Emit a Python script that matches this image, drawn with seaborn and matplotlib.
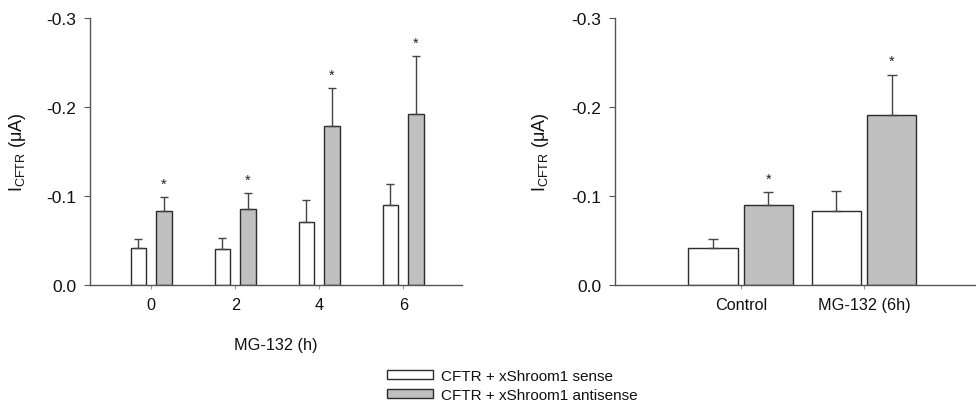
import numpy as np
import pandas as pd
import matplotlib
matplotlib.use("Agg")
import matplotlib.pyplot as plt
import seaborn as sns

# ---- data ----
hours = ["0", "2", "4", "6"]
sense_left = [-0.042, -0.040, -0.071, -0.090]
sense_left_err = [0.010, 0.013, 0.024, 0.024]
anti_left = [-0.083, -0.085, -0.179, -0.192]
anti_left_err = [0.0155, 0.018, 0.042, 0.065]

conditions = ["Control", "MG-132 (6h)"]
sense_right = [-0.042, -0.083]
sense_right_err = [0.010, 0.023]
anti_right = [-0.0895, -0.191]
anti_right_err = [0.0145, 0.045]

groups = ["CFTR + xShroom1 sense", "CFTR + xShroom1 antisense"]
yticks = [0.0, -0.1, -0.2, -0.3]
ytick_labels = ["0.0", "-0.1", "-0.2", "-0.3"]

# ---- style ----
sns.set_theme(style="ticks")
plt.rcParams["font.family"] = ["Liberation Sans", "DejaVu Sans"]
plt.rcParams["mathtext.fontset"] = "custom"
plt.rcParams["mathtext.rm"] = "Liberation Sans"
plt.rcParams["mathtext.it"] = "Liberation Sans"

palette = {groups[0]: "white", groups[1]: "#c0c0c0"}
edge = "#2b2b2b"
axcol = "#555555"
txt = "#111111"

fig = plt.figure(figsize=(9.76, 4.10), dpi=100)
axL = fig.add_axes([90 / 976, 1 - 286 / 410, 372 / 976, 267 / 410])
axR = fig.add_axes([615 / 976, 1 - 286 / 410, 360 / 976, 267 / 410])


def make_df(cats, s, a):
    return pd.DataFrame({
        "cat": list(cats) * 2,
        "val": list(s) + list(a),
        "grp": [groups[0]] * len(cats) + [groups[1]] * len(cats),
    })


def panel(ax, cats, s, se, a, ae, width, gap, capsize, xlim):
    df = make_df(cats, s, a)
    sns.barplot(data=df, x="cat", y="val", hue="grp", order=cats,
                hue_order=groups, palette=palette, errorbar=None,
                width=width, gap=gap, edgecolor=edge, linewidth=1.0,
                legend=False, ax=ax)
    for cont, vals, errs, star in zip(ax.containers, [s, a], [se, ae], [False, True]):
        xs = [p.get_x() + p.get_width() / 2 for p in cont.patches]
        ax.errorbar(xs, vals, yerr=[errs, np.zeros(len(errs))], fmt="none",
                    ecolor="#444444", elinewidth=1.0, capsize=capsize,
                    capthick=1.0, zorder=3)
        if star:
            for x, v, e in zip(xs, vals, errs):
                ax.annotate("*", xy=(x, v - e), xytext=(0, 5),
                            textcoords="offset points", ha="center",
                            va="bottom", fontsize=10.5, color="#222222")
    ax.set_ylim(0, -0.3)
    ax.set_yticks(yticks)
    ax.set_yticklabels(ytick_labels)
    ax.set_xlim(*xlim)
    ax.set_ylabel(r"$\mathrm{I_{CFTR}}$ (μA)", fontsize=13, color=txt)
    sns.despine(ax=ax)
    for sp in ["left", "bottom"]:
        ax.spines[sp].set_color(axcol)
        ax.spines[sp].set_linewidth(1.0)
    ax.tick_params(axis="y", length=4, width=0.8, color=axcol, labelsize=12.5,
                   labelcolor=txt, pad=6)
    ax.tick_params(axis="x", length=3, width=0.8, color="#999999", labelsize=11.7,
                   labelcolor=txt, pad=6)
    return ax


panel(axL, hours, sense_left, sense_left_err, anti_left, anti_left_err,
      width=0.61, gap=0.39, capsize=2.6, xlim=(-0.73, 3.70))
axL.set_xlabel("MG-132 (h)", fontsize=11.7, color=txt)
axL.xaxis.set_label_coords(0.5, -0.195)
axL.yaxis.set_label_coords(-0.168, 0.5)

panel(axR, conditions, sense_right, sense_right_err, anti_right, anti_right_err,
      width=0.9, gap=0.115, capsize=3.3, xlim=(-1.02, 1.9))
axR.set_xlabel("")
axR.yaxis.set_label_coords(-0.178, 0.5)

handles = [axL.containers[0].patches[0], axL.containers[1].patches[0]]
fig.legend(handles, groups, loc="upper left", bbox_to_anchor=(387 / 976, 1 - 370 / 410),
           frameon=False, fontsize=11, handlelength=3.0, handleheight=0.45,
           handletextpad=0.55, borderpad=0, borderaxespad=0, labelspacing=0.32,
           labelcolor=txt)

fig.savefig("out.png", dpi=100, facecolor="white")
